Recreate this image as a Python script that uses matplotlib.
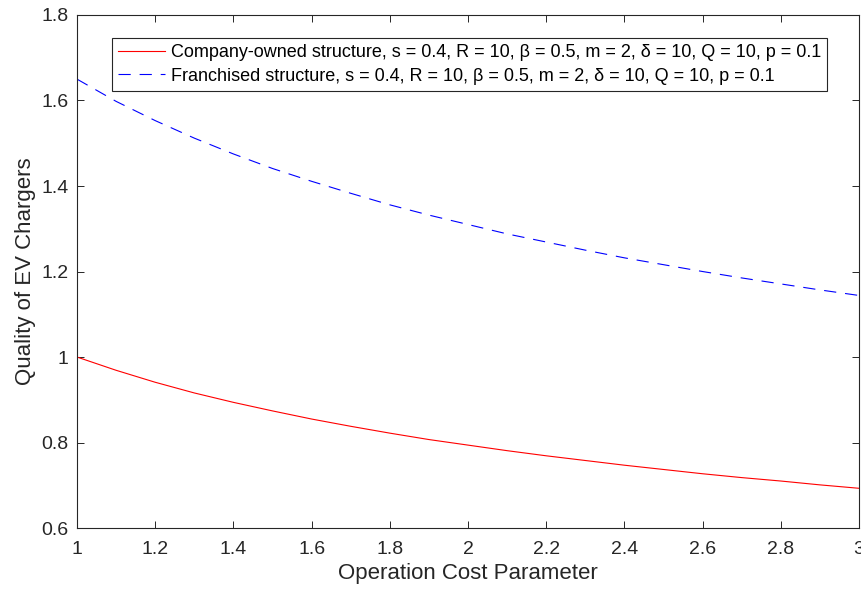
import matplotlib.pyplot as plt

# data
cost = [1.0, 1.1, 1.2, 1.3, 1.4, 1.5, 1.6, 1.7, 1.8, 1.9, 2.0,
        2.1, 2.2, 2.3, 2.4, 2.5, 2.6, 2.7, 2.8, 2.9, 3.0]
q_company = [1.000, 0.969, 0.941, 0.916, 0.894, 0.874, 0.855, 0.838, 0.822, 0.807, 0.794,
             0.781, 0.769, 0.758, 0.747, 0.737, 0.727, 0.718, 0.710, 0.701, 0.693]
q_franchise = [1.650, 1.598, 1.553, 1.512, 1.475, 1.441, 1.411, 1.383, 1.356, 1.332, 1.310,
               1.288, 1.269, 1.250, 1.232, 1.216, 1.200, 1.185, 1.171, 1.157, 1.144]
label_company = 'Company-owned structure, s = 0.4, R = 10, β = 0.5, m = 2, δ = 10, Q = 10, p = 0.1'
label_franchise = 'Franchised structure, s = 0.4, R = 10, β = 0.5, m = 2, δ = 10, Q = 10, p = 0.1'
xticks = [1, 1.2, 1.4, 1.6, 1.8, 2, 2.2, 2.4, 2.6, 2.8, 3]
yticks = [0.6, 0.8, 1, 1.2, 1.4, 1.6, 1.8]

plt.rcParams['font.family'] = ['Liberation Sans', 'DejaVu Sans']
grey = '#262626'

fig = plt.figure(figsize=(8.62, 5.9), dpi=100)
ax = fig.add_axes([0.0893, 0.105, 0.9072, 0.8696])

ax.plot(cost, q_company, color='red', linewidth=0.8, label=label_company)
ax.plot(cost, q_franchise, color='blue', linewidth=0.8, dashes=(11, 8), label=label_franchise)

ax.set_xlim(1, 3)
ax.set_ylim(0.6, 1.8)
ax.set_xticks(xticks)
ax.set_xticklabels(['%g' % v for v in xticks])
ax.set_yticks(yticks)
ax.set_yticklabels(['%g' % v for v in yticks])
ax.tick_params(direction='in', top=True, right=True, length=5, width=0.7,
               labelsize=14, colors=grey)
ax.tick_params(axis='x', pad=9)
ax.tick_params(axis='y', pad=6)
for s in ax.spines.values():
    s.set_linewidth(0.8)
    s.set_color(grey)

ax.set_xlabel('Operation Cost Parameter', fontsize=16, color=grey, labelpad=4)
ax.set_ylabel('Quality of EV Chargers', fontsize=16, color=grey, labelpad=4)

leg = ax.legend(loc='upper left', bbox_to_anchor=(0.045, 0.955), fontsize=13,
                fancybox=False, edgecolor=grey, framealpha=1,
                handlelength=2.6, handletextpad=0.3, borderpad=0.35,
                labelspacing=0.35, borderaxespad=0)
leg.get_frame().set_linewidth(0.8)

plt.savefig('out.png', dpi=100)
